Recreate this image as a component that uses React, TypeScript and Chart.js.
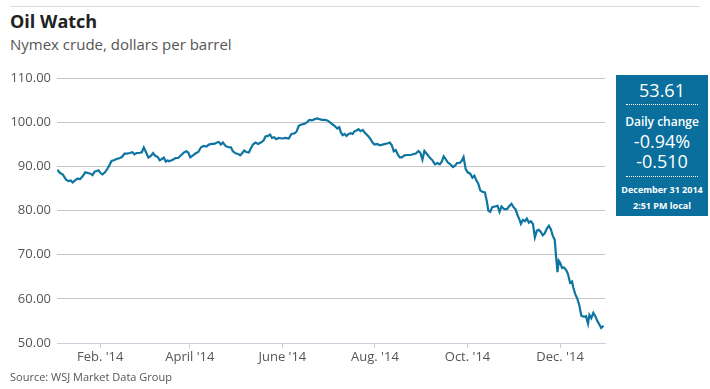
import React, { useEffect, useRef } from "react";
import { Chart, registerables } from "chart.js";

Chart.register(...registerables);

// x = day of year 2014 (Jan 1 = 0), y = Nymex crude settle, dollars per barrel
const days = [
  2.7, 4.5, 6.2, 8.5, 10.0, 11.5, 12.8, 14.4, 15.9, 17.7,
  19.4, 21.1, 22.9, 24.6, 25.9, 27.3, 28.6, 29.9, 31.2, 32.5,
  34.1, 35.6, 36.9, 38.4, 40.0, 41.7, 43.5, 45.3, 47.0, 48.7,
  50.5, 52.2, 53.5, 54.9, 56.6, 58.4, 59.7, 61.4, 62.7, 64.5,
  65.8, 67.1, 68.9, 70.2, 71.6, 72.9, 74.2, 75.5,
  76.3, 78.5, 80.7, 82.4, 84.2, 86.0, 87.7, 89.0, 90.3, 92.1,
  93.9, 95.6, 97.4, 99.2, 100.9, 102.6, 104.4, 106.1, 107.9, 109.2,
  110.5, 111.8, 113.6, 115.3, 117.1, 118.4, 120.2, 121.9, 123.2, 124.5,
  125.8, 127.2, 128.9, 130.2, 131.6, 133.3, 135.0, 136.8, 138.6, 139.9,
  141.6, 142.9, 144.2, 145.6, 146.9, 148.6, 150.8, 153.0, 155.2,
  157.0, 159.2, 160.5, 161.8, 163.6, 165.3, 167.1, 168.8, 170.5, 172.3,
  174.1, 175.4, 177.1, 178.9, 180.7, 182.4, 184.1, 185.9, 187.2, 188.5,
  189.4, 190.7, 192.0, 193.3, 194.7, 196.0, 197.3, 198.6, 199.9, 201.2,
  202.5, 203.9, 205.2, 206.5, 207.8, 209.1, 210.4, 211.7, 213.5, 215.2,
  217.0, 218.8, 220.5, 221.8, 223.1, 224.4, 225.7, 227.1, 228.4, 229.7,
  231.5,
  233.2, 235.4, 237.2, 238.9, 240.7, 242.0, 243.3, 244.6, 246.4, 248.1,
  249.9, 251.6, 253.3, 254.7, 256.0, 257.3, 258.6, 259.9, 261.7, 263.4,
  264.8, 266.1, 267.8, 269.1, 270.4, 271.8, 273.1, 274.8, 276.2, 277.5,
  278.8, 280.1, 281.4, 282.7, 284.5, 285.8, 286.7, 288.0, 289.3, 291.1,
  292.8, 294.1, 295.4, 297.2, 299.0, 300.3,
  302.0, 303.3, 304.6, 306.0, 307.3, 308.2, 309.5, 310.8, 312.1, 313.4,
  314.7, 316.1, 317.4, 318.7, 320.0, 321.3, 322.6, 323.9, 325.3, 326.6,
  327.9, 329.2, 330.5, 331.4, 332.3, 333.1, 334.0, 335.3, 336.6, 338.0,
  339.2, 340.6, 341.9, 342.7, 344.0, 345.4, 346.7, 348.0, 349.8, 351.1,
  352.4, 353.3, 354.6, 355.9, 357.2, 358.5, 359.8, 361.1, 362.6,
];

const prices = [
  89.25, 88.48, 88.18, 86.98, 86.66, 86.82, 86.36, 86.82, 87.2, 87.11,
  87.73, 88.64, 88.48, 88.34, 88.02, 88.8, 88.93, 89.09, 88.48, 88.18,
  88.64, 89.39, 90.16, 91.2, 91.36, 91.66, 91.82, 92.11, 92.89, 92.89,
  93.02, 93.18, 92.73, 93.02, 93.02, 93.18, 94.25, 93.02, 91.98, 92.43,
  93.02, 92.43, 92.11, 91.36, 91.66, 91.98, 91.07, 91.36,
  91.14, 91.43, 91.89, 91.89, 92.5, 93.11, 93.41, 93.11, 92.05, 92.5,
  92.95, 93.25, 94.32, 94.61, 94.48, 94.93, 95.07, 95.07, 95.39, 95.52,
  94.93, 95.39, 94.61, 94.32, 94.32, 93.41, 92.95, 92.8, 92.5, 92.95,
  93.57, 93.25, 93.11, 94.02, 94.93, 95.39, 95.07, 95.39, 95.84, 96.75,
  96.89, 97.2, 96.43, 96.59, 96.14, 96.43, 96.3, 96.43, 96.3,
  97.34, 97.5, 97.95, 99.16, 99.48, 99.61, 99.93, 100.52, 100.39, 100.68,
  100.84, 100.68, 100.52, 100.52, 100.39, 99.93, 99.48, 99.02, 98.57, 98.86,
  97.8, 97.05, 97.34, 96.89, 97.34, 97.5, 97.34, 97.95, 98.11, 98.41,
  97.95, 98.25, 97.66, 97.2, 96.75, 96.14, 95.39, 94.93, 95.07, 94.77,
  94.93, 95.07, 95.23, 95.39, 94.77, 93.41, 93.7, 92.66, 92.05, 92.05,
  92.5,
  92.57, 92.57, 92.73, 92.89, 93.48, 93.02, 91.52, 93.48, 92.73, 91.98,
  91.36, 90.45, 90.75, 90.45, 91.07, 92.27, 91.66, 90.91, 90.45, 89.84,
  90.16, 90.75, 90.75, 91.2, 92.11, 89.39, 88.64, 88.34, 87.43, 87.89,
  86.82, 86.07, 84.55, 84.25, 84.09, 81.98, 80.0, 79.7, 80.75, 80.91,
  81.07, 79.7, 80.91, 80.3, 80.3, 80.91,
  81.52, 80.75, 80.3, 78.93, 77.89, 76.98, 77.89, 77.57, 78.18, 77.27,
  77.57, 76.98, 73.93, 75.45, 75.61, 75.16, 74.39, 74.84, 75.91, 76.52,
  75.75, 74.25, 73.34, 69.39, 66.07, 68.64, 68.18, 66.98, 67.11, 66.52,
  65.61, 63.64, 63.93, 62.57, 61.07, 60.0, 58.48, 56.2, 55.91, 56.07,
  54.39, 56.36, 55.61, 56.82, 56.07, 55.0, 54.25, 53.4, 53.9,
];

const monthTickDays = [31, 90, 151, 212, 273, 334];
const monthTickLabels = ["Feb. '14", "April '14", "June '14", "Aug. '14", "Oct. '14", "Dec. '14"];
const yTickValues = [50, 60, 70, 80, 90, 100, 110];

const quoteLast = "53.61";
const quoteChangePct = "-0.94%";
const quoteChange = "-0.510";
const quoteDate = "December 31 2014";
const quoteTime = "2:51 PM local";

const FONT = "'Open Sans', 'Noto Sans', sans-serif";
const LINE_COLOR = "#0e75a2";
const BOX_COLOR = "#0a6f9c";

function Centered(props: { cy: number; size: number; weight?: number; children: React.ReactNode }) {
  const h = Math.round(props.size * 1.4);
  return (
    <div
      style={{
        position: "absolute",
        left: 0,
        width: "100%",
        top: props.cy - h / 2,
        height: h,
        lineHeight: `${h}px`,
        fontSize: props.size,
        fontWeight: props.weight ?? 400,
        textAlign: "center",
        whiteSpace: "nowrap",
      }}
    >
      {props.children}
    </div>
  );
}

export default function App() {
  const ref = useRef<HTMLCanvasElement>(null);

  useEffect(() => {
    const canvas = ref.current;
    if (!canvas) return;
    const chart = new Chart(canvas, {
      type: "line",
      data: {
        datasets: [
          {
            data: days.map((d, i) => ({ x: d, y: prices[i] })),
            borderColor: LINE_COLOR,
            borderWidth: 2.2,
            pointRadius: 0,
            tension: 0,
            fill: false,
          },
        ],
      },
      options: {
        animation: false,
        responsive: false,
        maintainAspectRatio: false,
        layout: { padding: { left: 0, right: 105, top: 78, bottom: 16 } },
        plugins: { legend: { display: false }, tooltip: { enabled: false } },
        scales: {
          x: {
            type: "linear",
            min: 2.5,
            max: 363.6,
            afterBuildTicks: (s: any) => {
              s.ticks = monthTickDays.map((v) => ({ value: v }));
            },
            afterFit: (s: any) => {
              s.height = 30;
            },
            grid: { drawOnChartArea: false, drawTicks: true, tickLength: 5, color: "#c9d1dc" },
            border: { display: true, color: "#c9d1dc" },
            ticks: {
              autoSkip: false,
              maxRotation: 0,
              padding: 1,
              color: "#555",
              font: { family: FONT, size: 13 },
              callback: (v: any) => {
                const i = monthTickDays.indexOf(Number(v));
                return i >= 0 ? monthTickLabels[i] : "";
              },
            },
          },
          y: {
            min: 50,
            max: 110,
            afterBuildTicks: (s: any) => {
              s.ticks = yTickValues.map((v) => ({ value: v }));
            },
            afterFit: (s: any) => {
              s.width = 57;
            },
            grid: { color: "#c6c6c6", drawTicks: false },
            border: { display: false },
            ticks: {
              padding: 6,
              color: "#555",
              font: { family: FONT, size: 13 },
              callback: (v: any) => Number(v).toFixed(2),
            },
          },
        },
      },
    });
    return () => chart.destroy();
  }, []);

  return (
    <div
      style={{
        position: "absolute",
        left: 0,
        top: 0,
        width: 710,
        height: 389,
        background: "#fff",
        fontFamily: FONT,
        overflow: "hidden",
      }}
    >
      <div style={{ position: "absolute", left: 10, top: 6, width: 690, height: 1, background: "#dcdcdc" }} />
      <div
        style={{
          position: "absolute",
          left: 10,
          top: 8,
          fontSize: 18,
          fontWeight: 700,
          color: "#222",
          lineHeight: "26px",
          whiteSpace: "nowrap",
        }}
      >
        Oil Watch
      </div>
      <div
        style={{
          position: "absolute",
          left: 10,
          top: 33,
          fontSize: 15,
          color: "#555",
          lineHeight: "22px",
          whiteSpace: "nowrap",
        }}
      >
        Nymex crude, dollars per barrel
      </div>
      <canvas
        ref={ref}
        width={710}
        height={389}
        style={{ position: "absolute", left: 0, top: 0, width: 710, height: 389 }}
      />
      <div
        style={{
          position: "absolute",
          left: 10,
          top: 369,
          fontSize: 11,
          color: "#555",
          lineHeight: "16px",
          whiteSpace: "nowrap",
        }}
      >
        Source: WSJ Market Data Group
      </div>
      <div
        style={{
          position: "absolute",
          left: 616,
          top: 75,
          width: 92,
          height: 141,
          background: BOX_COLOR,
          color: "#fff",
        }}
      >
        <Centered cy={15} size={18}>{quoteLast}</Centered>
        <div style={{ position: "absolute", left: 10, width: 72, top: 29, borderTop: "1px dotted #fff" }} />
        <Centered cy={46} size={12} weight={600}>Daily change</Centered>
        <Centered cy={66} size={18}>{quoteChangePct}</Centered>
        <Centered cy={86} size={18}>{quoteChange}</Centered>
        <div style={{ position: "absolute", left: 10, width: 72, top: 101, borderTop: "1px dotted #fff" }} />
        <Centered cy={114} size={9} weight={700}>{quoteDate}</Centered>
        <Centered cy={130} size={9} weight={700}>{quoteTime}</Centered>
      </div>
    </div>
  );
}
